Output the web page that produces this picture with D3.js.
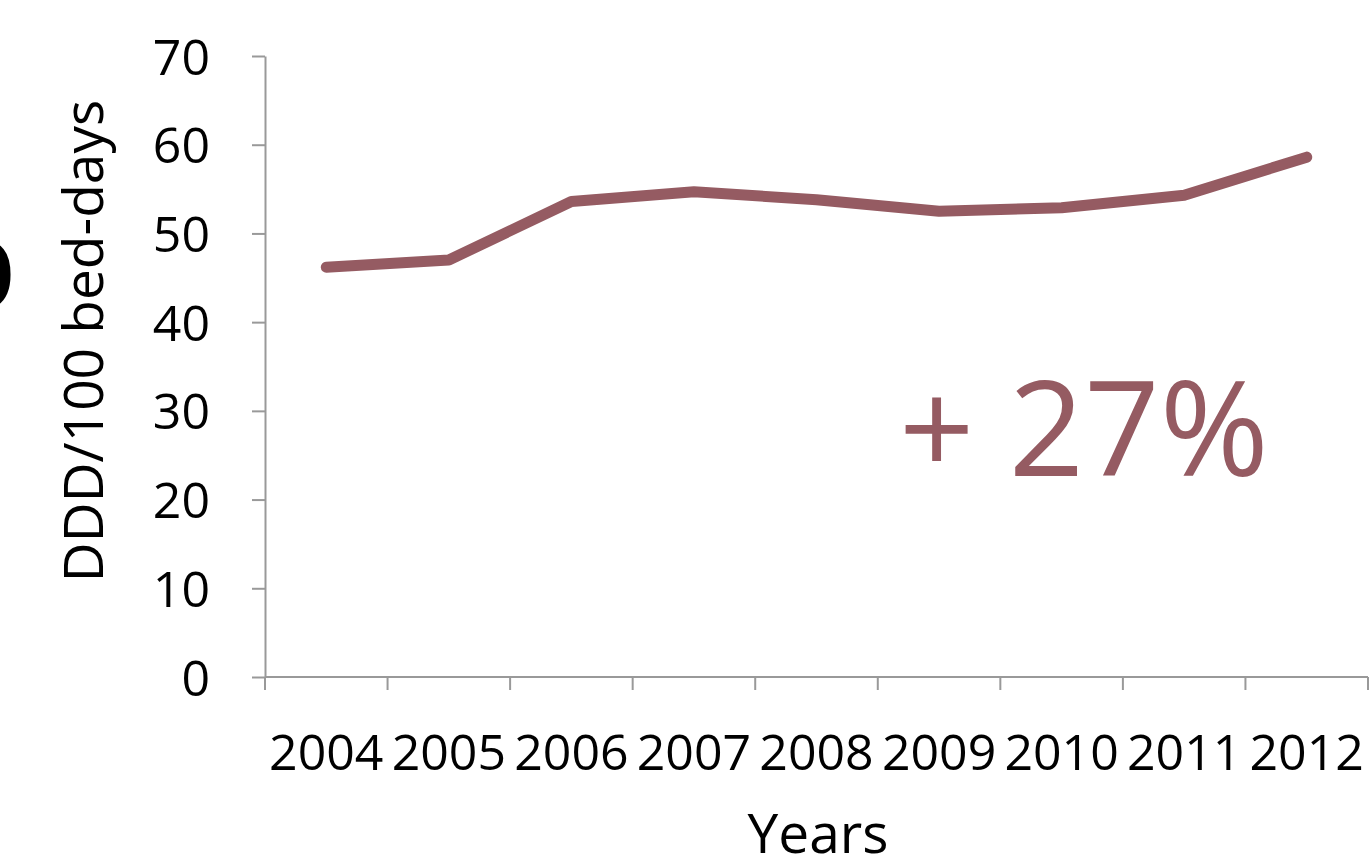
<!DOCTYPE html>
<html>
<head>
<meta charset="utf-8">
<script src="https://cdn.jsdelivr.net/npm/d3@7"></script>
<style>
  body { margin: 0; background: #fff; overflow: hidden; }
  text { font-family: 'Open Sans', sans-serif; }
  .axis path, .axis line { stroke: #999; stroke-width: 2px; }
  .axis text { fill: #000; font-size: 50px; }
</style>
</head>
<body>
<div id="chart"></div>
<script>
var years = ['2004', '2005', '2006', '2007', '2008', '2009', '2010', '2011', '2012']
var ddd = [46.2, 47.0, 53.6, 54.7, 53.8, 52.5, 52.9, 54.3, 58.6]
var yTicks = [0, 10, 20, 30, 40, 50, 60, 70]

var W = 1370, H = 855
var margin = { top: 56, left: 265, right: 2, bottom: 178 }

var svg = d3.select('#chart')
  .append('svg')
  .attr('width', W)
  .attr('height', H)

var x = d3.scaleBand()
  .domain(years)
  .range([margin.left, W - margin.right])

var y = d3.scaleLinear()
  .domain([0, 70])
  .range([H - margin.bottom, margin.top])

// y axis
svg.append('g')
  .attr('class', 'axis')
  .attr('transform', 'translate(' + margin.left + ',0)')
  .call(d3.axisLeft(y).tickValues(yTicks).tickSizeInner(13).tickSizeOuter(0).tickPadding(42))
  .call(g => g.selectAll('text').attr('dy', '0.36em'))

// x axis, ticks sit on the band edges like in excel
var xAxis = svg.append('g')
  .attr('class', 'axis')
  .attr('transform', 'translate(0,' + y(0) + ')')

xAxis.append('path')
  .attr('d', 'M' + x.range()[0] + ',0H' + x.range()[1])

xAxis.selectAll('.edge')
  .data(years.concat(['end']))
  .enter()
  .append('line')
  .attr('x1', (d, i) => x.range()[0] + i * x.step())
  .attr('x2', (d, i) => x.range()[0] + i * x.step())
  .attr('y1', 0)
  .attr('y2', 13)

xAxis.selectAll('.lbl')
  .data(years)
  .enter()
  .append('text')
  .attr('x', d => x(d) + x.bandwidth() / 2)
  .attr('y', 93)
  .attr('text-anchor', 'middle')
  .text(d => d)

// line
var line = d3.line()
  .x((d, i) => x(years[i]) + x.bandwidth() / 2)
  .y(d => y(d))

svg.append('path')
  .datum(ddd)
  .attr('d', line)
  .attr('fill', 'none')
  .attr('stroke', '#955B62')
  .attr('stroke-width', 11)
  .attr('stroke-linecap', 'round')
  .attr('stroke-linejoin', 'round')

// titles
svg.append('text')
  .attr('transform', 'translate(103,' + 341 + ') rotate(-90)')
  .attr('text-anchor', 'middle')
  .attr('font-size', '55px')
  .text('DDD/100 bed-days')

svg.append('text')
  .attr('x', 818)
  .attr('y', 853)
  .attr('text-anchor', 'middle')
  .attr('font-size', '55px')
  .text('Years')

svg.append('text')
  .attr('x', 1084)
  .attr('y', 476)
  .attr('text-anchor', 'middle')
  .attr('font-size', '132px')
  .attr('fill', '#955B62')
  .text('+ 27%')

// clipped panel letter on the left edge
svg.append('text')
  .attr('x', -60)
  .attr('y', 308)
  .attr('font-size', '120px')
  .attr('font-weight', 'bold')
  .text('b')
</script>
</body>
</html>
